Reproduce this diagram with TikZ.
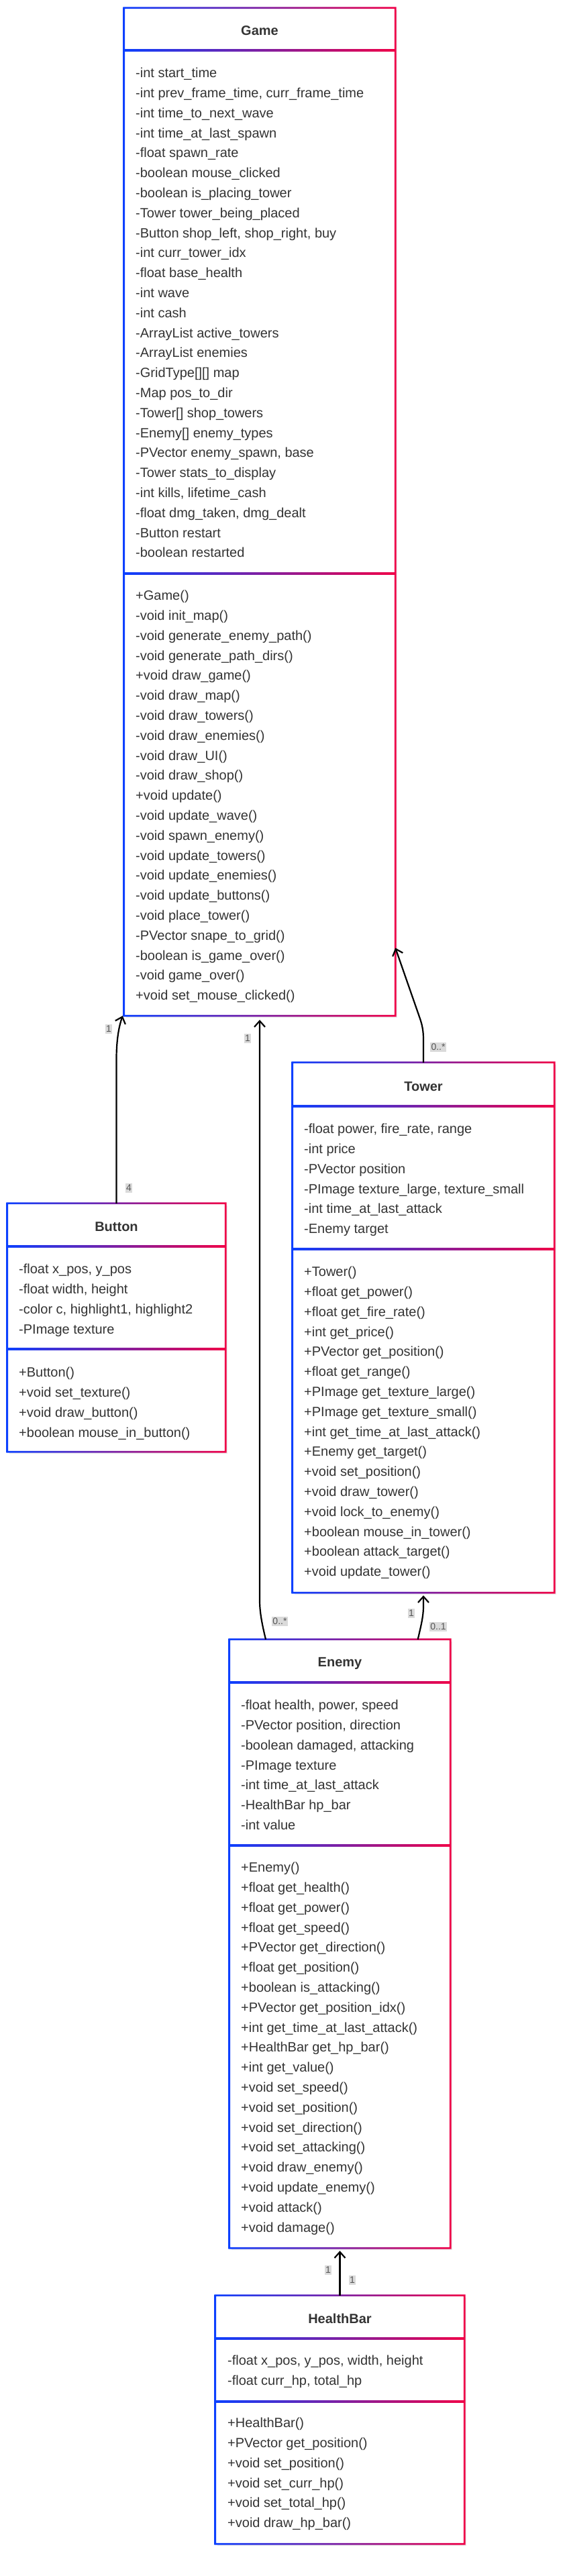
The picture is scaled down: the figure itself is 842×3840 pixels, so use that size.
\documentclass[tikz,border=0pt]{standalone}
\usepackage{fontspec}
\setmainfont{Liberation Sans}
\usepackage{tikz}
\usetikzlibrary{arrows.meta,positioning,calc}
\definecolor{cblue}{RGB}{12,64,255}
\definecolor{cred}{RGB}{240,0,72}
\definecolor{txt}{RGB}{51,51,51}
\definecolor{labbg}{RGB}{218,218,218}
\definecolor{labtxt}{RGB}{85,85,85}
\tikzstyle{cls}=[rectangle,inner sep=0pt]
\tikzstyle{ttl}=[anchor=base,inner sep=0pt,text=txt,font=\fontsize{20}{24}\selectfont\bfseries]
\tikzstyle{memb}=[anchor=north west,align=left,inner sep=0pt,text=txt,font=\fontsize{20}{29.8}\selectfont]
\tikzstyle{mult}=[fill=labbg,text=labtxt,inner xsep=1.5pt,inner ysep=2.5pt,font=\fontsize{14}{14}\selectfont]
\tikzstyle{conn}=[line width=2.2pt,-{Straight Barb[length=9pt,width=16pt]}]
% frame of a class box, blue on the left, red on the right
\newcommand{\clsframe}[1]{%
\fill[black!8] ([shift={(3,3)}]#1.north west) rectangle ([shift={(3,3)}]#1.south east);
\fill[white] (#1.north west) rectangle (#1.south east);
\shade[left color=cblue,right color=cred,even odd rule]
([shift={(-1.4,-1.4)}]#1.north west) rectangle ([shift={(1.4,1.4)}]#1.south east)
([shift={(1.4,1.4)}]#1.north west) rectangle ([shift={(-1.4,-1.4)}]#1.south east);}
\newcommand{\clsrule}[2]{%
\shade[left color=cblue,right color=cred] (#1.west |- 0,#2-1.4) rectangle (#1.east |- 0,#2+1.4);}

\begin{document}
\begin{tikzpicture}[x=1pt,y=-1pt]
\useasboundingbox (0,0) rectangle (842,3840);
\node[cls,minimum width=404pt,minimum height=1502pt] (game) at (387,763) {};
\node[cls,minimum width=390pt,minimum height=790pt] (tower) at (631,1979) {};
\node[cls,minimum width=325pt,minimum height=370pt] (button) at (173.5,1979) {};
\node[cls,minimum width=329pt,minimum height=907pt] (enemy) at (506.5,2897.5) {};
\node[cls,minimum width=371pt,minimum height=370pt] (hpbar) at (506.5,3607) {};
\clsframe{game} \clsrule{game}{75} \clsrule{game}{855}
\clsframe{tower} \clsrule{tower}{1649} \clsrule{tower}{1862}
\clsframe{button} \clsrule{button}{1858} \clsrule{button}{2011}
\clsframe{enemy} \clsrule{enemy}{2508} \clsrule{enemy}{2751}
\clsframe{hpbar} \clsrule{hpbar}{3486} \clsrule{hpbar}{3580}

%Game
\node[ttl] (gameT) at (game.north |- 0,52.2) {Game};
\node[memb] (gameA) at (202,94.6) {\strut-int start\_time\\-int prev\_frame\_time, curr\_frame\_time\\-int time\_to\_next\_wave\\-int time\_at\_last\_spawn\\-float spawn\_rate\\-boolean mouse\_clicked\\-boolean is\_placing\_tower\\-Tower tower\_being\_placed\\-Button shop\_left, shop\_right, buy\\-int curr\_tower\_idx\\-float base\_health\\-int wave\\-int cash\\-ArrayList active\_towers\\-ArrayList enemies\\-GridType[][] map\\-Map pos\_to\_dir\\-Tower[] shop\_towers\\-Enemy[] enemy\_types\\-PVector enemy\_spawn, base\\-Tower stats\_to\_display\\-int kills, lifetime\_cash\\-float dmg\_taken, dmg\_dealt\\-Button restart\\-boolean restarted};
\node[memb] (gameM) at (202,873.6) {\strut+Game()\\-void init\_map()\\-void generate\_enemy\_path()\\-void generate\_path\_dirs()\\+void draw\_game()\\-void draw\_map()\\-void draw\_towers()\\-void draw\_enemies()\\-void draw\_UI()\\-void draw\_shop()\\+void update()\\-void update\_wave()\\-void spawn\_enemy()\\-void update\_towers()\\-void update\_enemies()\\-void update\_buttons()\\-void place\_tower()\\-PVector snape\_to\_grid()\\-boolean is\_game\_over()\\-void game\_over()\\+void set\_mouse\_clicked()};

%Tower
\node[ttl] (towerT) at (tower.north |- 0,1626) {Tower};
\node[memb] (towerA) at (453,1668.6) {\strut-float power, fire\_rate, range\\-int price\\-PVector position\\-PImage texture\_large, texture\_small\\-int time\_at\_last\_attack\\-Enemy target};
\node[memb] (towerM) at (453,1881.6) {\strut+Tower()\\+float get\_power()\\+float get\_fire\_rate()\\+int get\_price()\\+PVector get\_position()\\+float get\_range()\\+PImage get\_texture\_large()\\+PImage get\_texture\_small()\\+int get\_time\_at\_last\_attack()\\+Enemy get\_target()\\+void set\_position()\\+void draw\_tower()\\+void lock\_to\_enemy()\\+boolean mouse\_in\_tower()\\+boolean attack\_target()\\+void update\_tower()};

%Button
\node[ttl] (buttonT) at (button.north |- 0,1835) {Button};
\node[memb] (buttonA) at (28,1877.6) {\strut-float x\_pos, y\_pos\\-float width, height\\-color c, highlight1, highlight2\\-PImage texture};
\node[memb] (buttonM) at (28,2031.6) {\strut+Button()\\+void set\_texture()\\+void draw\_button()\\+boolean mouse\_in\_button()};

%Enemy
\node[ttl] (enemyT) at (enemy.north |- 0,2484) {Enemy};
\node[memb] (enemyA) at (359,2527.6) {\strut-float health, power, speed\\-PVector position, direction\\-boolean damaged, attacking\\-PImage texture\\-int time\_at\_last\_attack\\-HealthBar hp\_bar\\-int value};
\node[memb] (enemyM) at (359,2769.6) {\strut+Enemy()\\+float get\_health()\\+float get\_power()\\+float get\_speed()\\+PVector get\_direction()\\+float get\_position()\\+boolean is\_attacking()\\+PVector get\_position\_idx()\\+int get\_time\_at\_last\_attack()\\+HealthBar get\_hp\_bar()\\+int get\_value()\\+void set\_speed()\\+void set\_position()\\+void set\_direction()\\+void set\_attacking()\\+void draw\_enemy()\\+void update\_enemy()\\+void attack()\\+void damage()};

%HealthBar
\node[ttl] (hpbarT) at (hpbar.north |- 0,3463) {HealthBar};
\node[memb] (hpbarA) at (339,3504.6) {\strut-float x\_pos, y\_pos, width, height\\-float curr\_hp, total\_hp};
\node[memb] (hpbarM) at (339,3597.6) {\strut+HealthBar()\\+PVector get\_position()\\+void set\_position()\\+void set\_curr\_hp()\\+void set\_total\_hp()\\+void draw\_hp\_bar()};

%associations
\draw[conn] (button.north) -- (button.north |- 0,1575) .. controls (174,1545) and (178,1528) .. ([xshift=-2pt]game.south west);
\draw[conn,shorten >=6pt] ([xshift=-110.5pt]enemy.north) .. controls (389,2415) and (387,2400) .. (387,2385) -- (game.south);
\draw[conn] (tower.north) -- (631,1550) .. controls (631,1530) and (627,1522) .. (623,1510) -- (game.east |- 0,1413);
\draw[conn,shorten >=4pt] ([xshift=-48.5pt]enemy.north east) .. controls (627,2425) and (631,2410) .. (631,2395) -- (tower.south);
\draw[conn,shorten >=4pt] (hpbar.north) -- (enemy.south);

\node[mult] (m1) at (162,1534) {1};
\node[mult] (m2) at (192,1771) {4};
\node[mult] (m3) at (369,1548) {1};
\node[mult] (m4) at (417,2417) {0..*};
\node[mult] (m5) at (653,1561) {0..*};
\node[mult] (m6) at (613,2405) {1};
\node[mult] (m7) at (653,2425) {0..1};
\node[mult] (m8) at (489,3384) {1};
\node[mult] (m9) at (525,3399) {1};
\end{tikzpicture}
\end{document}
